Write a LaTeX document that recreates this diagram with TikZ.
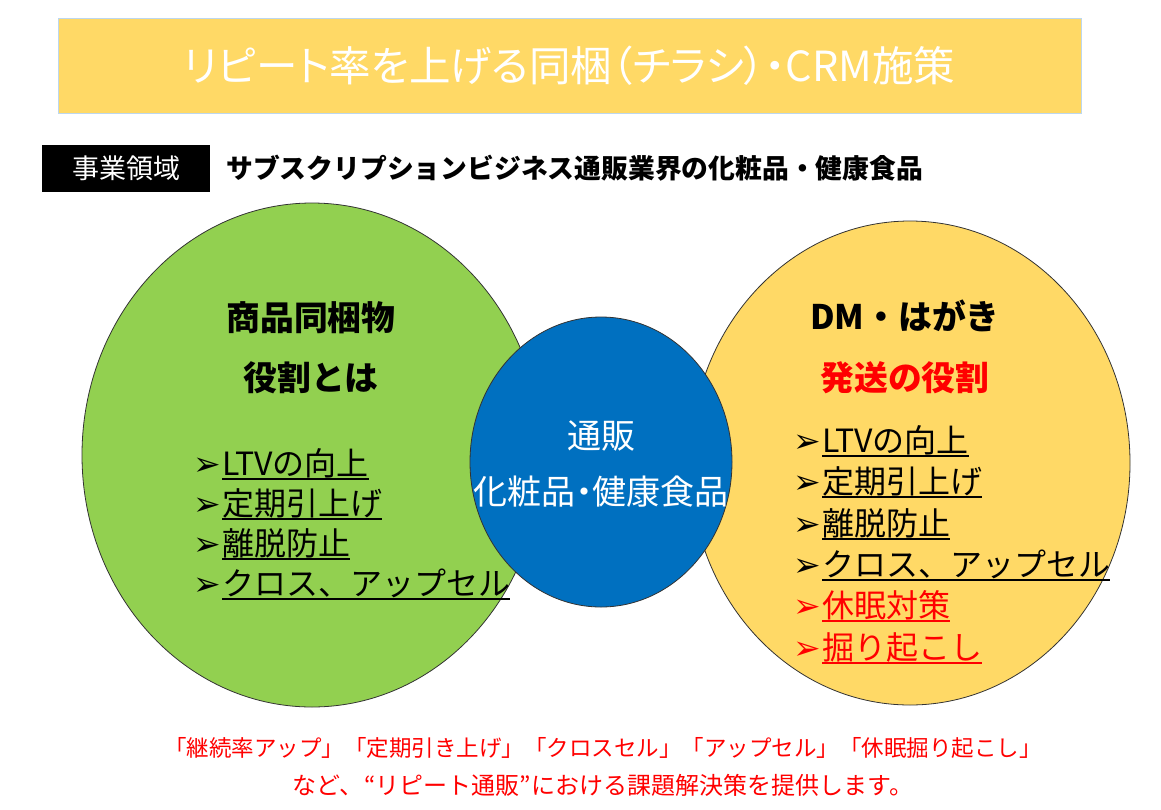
\documentclass[tikz,border=0pt]{standalone}
\usepackage{fontspec}
\usetikzlibrary{shapes.geometric}
\newfontfamily\jpfont{Noto Sans CJK JP}
\newfontfamily\jpprop{Noto Sans CJK JP}[RawFeature=+palt]
\newfontfamily\symfont{DejaVu Sans}
\definecolor{titlefill}{HTML}{FFD966}
\definecolor{titleline}{HTML}{BDD7EE}
\definecolor{dmyellow}{HTML}{FFD966}
\definecolor{dogreen}{HTML}{92D050}
\definecolor{tsublue}{HTML}{0070C0}
\newcommand\ul[1]{\setbox0\hbox{#1}\rlap{\rule[-5pt]{\wd0}{1.6pt}}\box0}
\newcommand\bul{\makebox[29pt][l]{\symfont\fontsize{33}{33}\selectfont ➢}}
\newcommand\oq{\makebox[12pt][r]{“}}
\newcommand\cq{\makebox[12pt][l]{”}}
\tikzset{
  blob/.style={ellipse, draw=black!80, line width=0.8pt, inner sep=0pt},
  head/.style={font=\jpfont\bfseries\fontsize{33.8}{33.8}\selectfont},
  item/.style={anchor=base west, inner sep=0pt, font=\jpfont\fontsize{32}{32}\selectfont},
  note/.style={text=red, font=\jpfont\fontsize{22.5}{22.5}\selectfont}
}
\begin{document}
\begin{tikzpicture}[x=1pt, y=-1pt]
 \useasboundingbox (0,0) rectangle (1161,809);
 % title band
 \node[fill=titlefill, draw=titleline, line width=1pt, minimum width=1023pt, minimum height=95pt,
   text=white, font=\jpprop\fontsize{41.5}{41.5}\selectfont] (title) at (569.5,65.5)
   {リピート率を上げる同梱（チラシ）・CRM施策};
 \node[fill=black, minimum width=168pt, minimum height=47pt, text=white,
   font=\jpfont\fontsize{27}{27}\selectfont] (field) at (126,168.5) {事業領域};
 \node[anchor=west, inner sep=0pt, font=\jpfont\bfseries\fontsize{26.8}{26.8}\selectfont] (fieldtext) at (226,168)
   {サブスクリプションビジネス通販業界の化粧品・健康食品};
 % the three circles
 \node[blob, fill=dogreen, minimum width=460pt, minimum height=504pt] (doukon) at (312,455) {};
 \node[blob, fill=dmyellow, minimum width=440pt, minimum height=484pt] (dm) at (910,463) {};
 \node[blob, fill=tsublue, minimum width=262pt, minimum height=290pt] (tsuhan) at (601,462) {};
 % left circle
 \node[head] (doukonhead) at (311,318) {商品同梱物};
 \node[head] (doukonrole) at (311,378) {役割とは};
 \node[item] (g1) at (193,475) {\bul\ul{LTVの向上}};
 \node[item] (g2) at (193,515) {\bul\ul{定期引上げ}};
 \node[item] (g3) at (193,555) {\bul\ul{離脱防止}};
 \node[item] (g4) at (193,595) {\bul\ul{クロス、アップセル}};
 % right circle
 \node[head] (dmhead) at (905,316) {DM・はがき};
 \node[head, text=red] (dmrole) at (905,378) {発送の役割};
 \node[item] (y1) at (793,452) {\bul\ul{LTVの向上}};
 \node[item] (y2) at (793,493) {\bul\ul{定期引上げ}};
 \node[item] (y3) at (793,535) {\bul\ul{離脱防止}};
 \node[item] (y4) at (793,576) {\bul\ul{クロス、アップセル}};
 \node[item, text=red] (y5) at (793,617) {\bul\ul{休眠対策}};
 \node[item, text=red] (y6) at (793,659) {\bul\ul{掘り起こし}};
 % centre
 \node[text=white, font=\jpprop\fontsize{34}{34}\selectfont] (tsuhanhead) at (601,436) {通販};
 \node[text=white, font=\jpprop\fontsize{34}{34}\selectfont] (tsuhanitem) at (601,492) {化粧品・健康食品};
 % bottom message
 \node[note] (note1) at (603,748) {「継続率アップ」「定期引き上げ」「クロスセル」「アップセル」「休眠掘り起こし」};
 \node[note, font=\jpfont\fontsize{24}{24}\selectfont] (note2) at (603,785) {など、\oq リピート通販\cq における課題解決策を提供します。};
\end{tikzpicture}
\end{document}
